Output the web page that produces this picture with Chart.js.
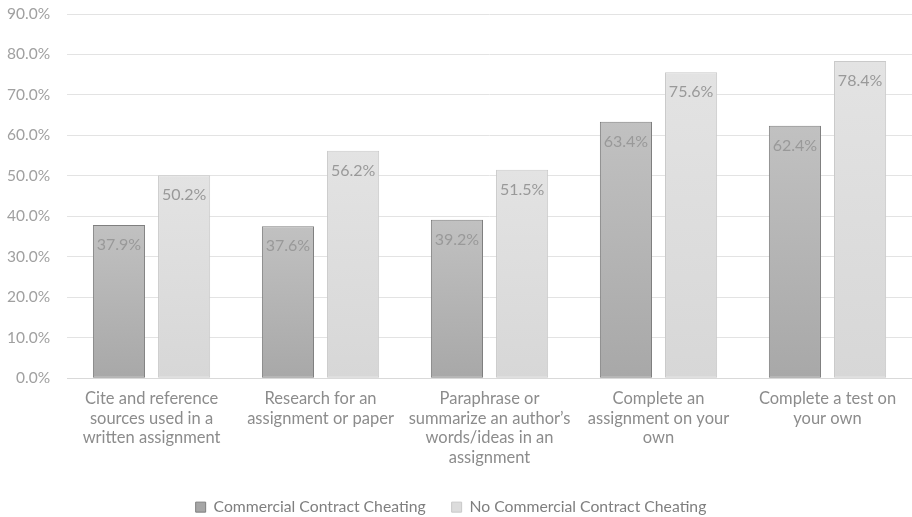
<!DOCTYPE html>
<html>
<head>
<meta charset="utf-8">
<script src="https://cdn.jsdelivr.net/npm/chart.js@4.4.1/dist/chart.umd.min.js"></script>
<style>
  html, body { margin: 0; padding: 0; background: #ffffff; }
  #wrap { width: 912px; height: 517px; position: relative; }
</style>
</head>
<body>
<div id="wrap"><canvas id="c"></canvas></div>
<script>
const categories = [
  ["Cite and reference", "sources used in a", "written assignment"],
  ["Research for an", "assignment or paper"],
  ["Paraphrase or", "summarize an author\u2019s", "words/ideas in an", "assignment"],
  ["Complete an", "assignment on your", "own"],
  ["Complete a test on", "your own"]
];
const seriesNames = ["Commercial Contract Cheating", "No Commercial Contract Cheating"];
const commercialValues = [37.9, 37.6, 39.2, 63.4, 62.4];
const noCommercialValues = [50.2, 56.2, 51.5, 75.6, 78.4];

const FONT = "Lato, 'Open Sans', 'Liberation Sans', sans-serif";

// Each bar fades from a lighter top to a darker base
function barGradient(ctx, top, bottom) {
  const chart = ctx.chart;
  const y = chart.scales.y;
  if (!chart.chartArea || !y || ctx.raw == null) return top;
  const y0 = y.getPixelForValue(ctx.raw);
  const y1 = y.getPixelForValue(0);
  if (!isFinite(y0) || !isFinite(y1) || y0 === y1) return top;
  const g = chart.ctx.createLinearGradient(0, y0, 0, y1);
  g.addColorStop(0, top);
  g.addColorStop(1, bottom);
  return g;
}

// Writes each bar's value just inside its top edge
const valueLabels = {
  id: 'valueLabels',
  afterDatasetsDraw(chart) {
    const ctx = chart.ctx;
    ctx.save();
    ctx.font = "16px " + FONT;
    ctx.fillStyle = "#999999";
    ctx.textAlign = "center";
    ctx.textBaseline = "middle";
    chart.data.datasets.forEach((ds, i) => {
      chart.getDatasetMeta(i).data.forEach((bar, j) => {
        ctx.fillText(ds.data[j].toFixed(1) + "%", bar.x, bar.y + 20);
      });
    });
    ctx.restore();
  }
};

new Chart(document.getElementById('c'), {
  type: 'bar',
  data: {
    labels: categories,
    datasets: [
      {
        label: seriesNames[0],
        data: commercialValues,
        backgroundColor: (ctx) => barGradient(ctx, "#c1c1c1", "#a8a8a8"),
        borderColor: "#7f7f7f",
        borderWidth: 1,
        borderSkipped: false,
        legendFill: "#a6a6a6",
        legendStroke: "#7f7f7f",
        barPercentage: 0.8,
        categoryPercentage: 0.771
      },
      {
        label: seriesNames[1],
        data: noCommercialValues,
        backgroundColor: (ctx) => barGradient(ctx, "#e3e3e3", "#d7d7d7"),
        borderColor: "#c9c9c9",
        borderWidth: 1,
        borderSkipped: false,
        legendFill: "#dcdcdc",
        legendStroke: "#c9c9c9",
        barPercentage: 0.8,
        categoryPercentage: 0.771
      }
    ]
  },
  options: {
    responsive: true,
    maintainAspectRatio: false,
    animation: false,
    layout: { padding: { left: -10, right: 0, top: 0, bottom: -8 } },
    plugins: {
      tooltip: { enabled: false },
      legend: {
        position: 'bottom',
        labels: {
          font: { family: FONT, size: 15.75 },
          color: "#7f7f7f",
          boxWidth: 10,
          boxHeight: 10,
          padding: 26,
          generateLabels(chart) {
            return chart.data.datasets.map((ds, i) => ({
              text: ds.label,
              fillStyle: ds.legendFill,
              strokeStyle: ds.legendStroke,
              lineWidth: 1,
              fontColor: "#7f7f7f",
              datasetIndex: i,
              hidden: false
            }));
          }
        }
      }
    },
    scales: {
      x: {
        grid: { display: false },
        border: { display: true, color: "#d9d9d9" },
        ticks: {
          font: { family: FONT, size: 16.5, lineHeight: 1.18 },
          color: "#8c8c8c",
          maxRotation: 0,
          autoSkip: false,
          padding: 3
        },
        afterFit(scale) { scale.height += 3; }
      },
      y: {
        min: 0,
        max: 90,
        border: { display: false },
        grid: { color: "#e3e3e3", drawTicks: false },
        ticks: {
          stepSize: 10,
          font: { family: FONT, size: 15.5 },
          color: "#a0a0a0",
          padding: 17,
          callback: (v) => v.toFixed(1) + "%"
        },
        afterFit(scale) { scale.paddingTop = 14; }
      }
    }
  },
  plugins: [valueLabels]
});
</script>
</body>
</html>
